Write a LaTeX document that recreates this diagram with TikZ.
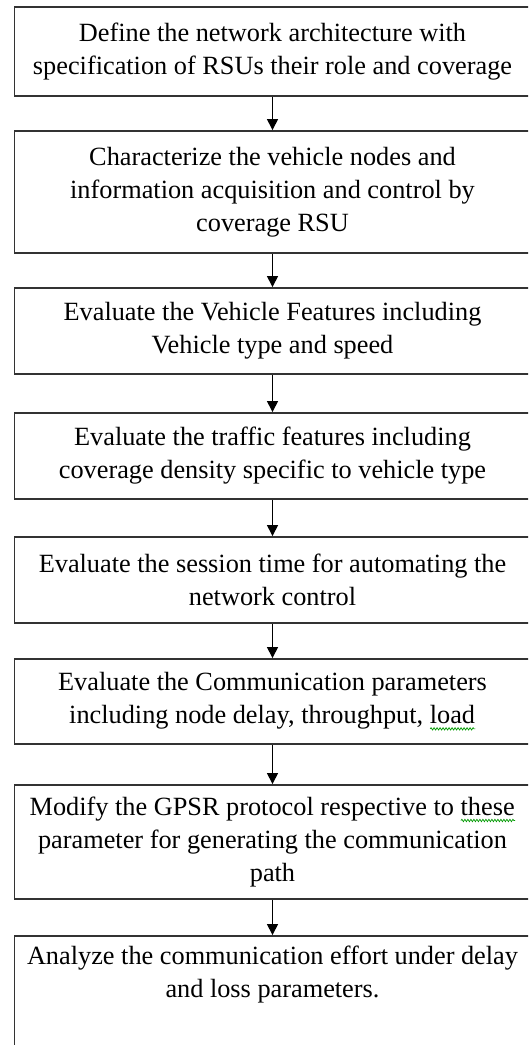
\documentclass[tikz,border=0pt]{standalone}
\usepackage{fontspec}
\setmainfont{Liberation Serif}
\usetikzlibrary{arrows.meta,decorations.pathmorphing}
\newlength{\squigwd}
\newcommand{\squig}[1]{\settowidth{\squigwd}{#1}\rlap{#1}\tikz[baseline=0pt]
  \draw[green!60!black, line width=0.7pt, decorate, decoration={snake,
  amplitude=1.2pt, segment length=3pt}] (0pt,-5pt) -- (\squigwd,-5pt);}
\tikzset{stepbox/.style={draw=black!80, line width=1.9pt, minimum width=516pt,
    align=center, inner sep=0pt, font=\fontsize{26.3}{33}\selectfont},
  flow/.style={-{Triangle[width=11pt,length=11pt]}, line width=1.4pt}}
\begin{document}
\begin{tikzpicture}[x=1pt,y=-1pt]
    \clip (0,0) rectangle (528,1045);
    \node (arch) at (272.5,51.5) [stepbox, minimum height=89pt] {Define the
    network architecture with\\ specification of RSUs their role and coverage};
    \node (veh) at (272.5,192) [stepbox, minimum height=122pt] {Characterize
    the vehicle nodes and\\ information acquisition and control by\\ coverage RSU};
    \node (feat) at (272.5,331) [stepbox, minimum height=86pt] {Evaluate the
    Vehicle Features including\\ Vehicle type and speed};
    \node (traf) at (272.5,456) [stepbox, minimum height=86pt] {Evaluate the
    traffic features including\\ coverage density specific to vehicle type};
    \node (sess) at (272.5,580) [stepbox, minimum height=86pt] {Evaluate the
    session time for automating the\\ network control};
    \node (comm) at (272.5,701.5) [stepbox, minimum height=85pt] {Evaluate the
    Communication parameters\\ including node delay, throughput, \squig{load}};
    \node (gpsr) at (272.5,842) [stepbox, minimum height=114pt] {Modify the
    GPSR protocol respective to \squig{these}\\ parameter for generating the
    communication\\ path};
    \node (anal) at (272.5,993) [stepbox, minimum height=114pt] {Analyze the
    communication effort under delay\\ and loss parameters.\\ \strut};
    \draw[flow] (arch.south) -- (veh.north); \draw[flow] (veh.south) -- (feat.north);
    \draw[flow] (feat.south) -- (traf.north); \draw[flow] (traf.south) -- (sess.north);
    \draw[flow] (sess.south) -- (comm.north); \draw[flow] (comm.south) -- (gpsr.north);
    \draw[flow] (gpsr.south) -- (anal.north);
\end{tikzpicture}
\end{document}
